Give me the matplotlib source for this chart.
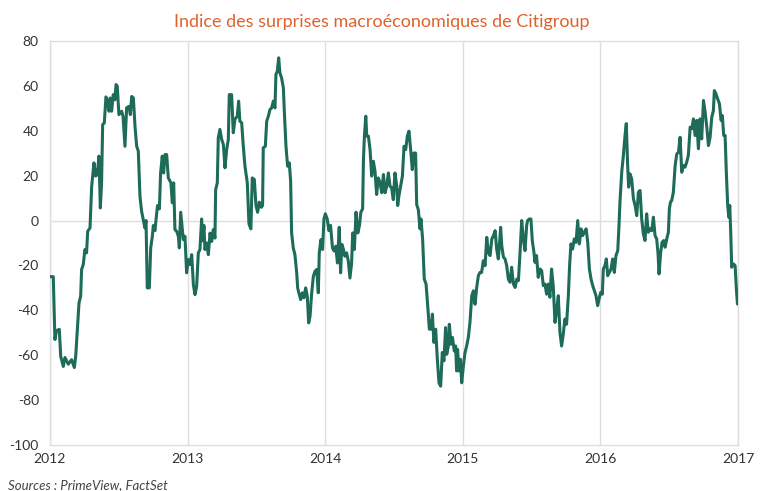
import matplotlib
matplotlib.use("Agg")
import matplotlib.pyplot as plt

plt.rcParams['font.family'] = ['Lato', 'DejaVu Sans']
plt.rcParams['axes.unicode_minus'] = False

# Indice des surprises macro Citigroup, temps en années décimales
years = [
    2012.000, 2012.024, 2012.036, 2012.048, 2012.068, 2012.078, 2012.097, 2012.109, 2012.133, 2012.157,
    2012.177, 2012.187, 2012.199, 2012.211, 2012.223, 2012.230, 2012.242, 2012.254, 2012.266, 2012.274,
    2012.291, 2012.303, 2012.320, 2012.332, 2012.344, 2012.356, 2012.366, 2012.375, 2012.383, 2012.395,
    2012.407, 2012.419, 2012.429, 2012.438, 2012.448, 2012.460, 2012.472, 2012.480, 2012.489, 2012.501,
    2012.521, 2012.531, 2012.545, 2012.557, 2012.574, 2012.584, 2012.594, 2012.606, 2012.618, 2012.630,
    2012.642, 2012.654, 2012.666, 2012.678, 2012.690, 2012.698, 2012.707, 2012.722, 2012.732, 2012.744,
    2012.751, 2012.763, 2012.775, 2012.782, 2012.795, 2012.804, 2012.816, 2012.826, 2012.836, 2012.848,
    2012.860, 2012.879, 2012.889, 2012.899, 2012.908, 2012.921, 2012.933, 2012.940, 2012.950, 2012.957,
    2012.969, 2012.981, 2012.993, 2013.005, 2013.017, 2013.030, 2013.042, 2013.054, 2013.066, 2013.078,
    2013.090, 2013.102, 2013.110, 2013.119, 2013.126, 2013.139, 2013.151, 2013.163, 2013.175, 2013.187,
    2013.199, 2013.204, 2013.216, 2013.223,
    2013.235, 2013.248, 2013.260, 2013.272, 2013.284, 2013.296, 2013.303, 2013.320, 2013.332, 2013.344,
    2013.361, 2013.371, 2013.380, 2013.393, 2013.405, 2013.417, 2013.434, 2013.446, 2013.460, 2013.470,
    2013.485, 2013.497, 2013.509, 2013.521, 2013.536, 2013.545, 2013.550, 2013.565, 2013.575, 2013.587,
    2013.599, 2013.611, 2013.623, 2013.635, 2013.642, 2013.652, 2013.662, 2013.671, 2013.683, 2013.696,
    2013.703, 2013.715, 2013.727, 2013.739, 2013.749, 2013.756, 2013.768, 2013.780, 2013.793, 2013.800,
    2013.812, 2013.822, 2013.834, 2013.846, 2013.858, 2013.870, 2013.880, 2013.890, 2013.902, 2013.914,
    2013.926, 2013.938, 2013.950, 2013.957, 2013.969, 2013.981, 2013.991, 2014.001, 2014.015, 2014.027,
    2014.039, 2014.053, 2014.065, 2014.077, 2014.089, 2014.102, 2014.112, 2014.121, 2014.133, 2014.143,
    2014.156, 2014.168, 2014.180, 2014.192, 2014.200, 2014.212, 2014.224, 2014.237, 2014.249, 2014.259,
    2014.272, 2014.278, 2014.285, 2014.295, 2014.302, 2014.314, 2014.326, 2014.338, 2014.350, 2014.362,
    2014.374, 2014.386, 2014.399, 2014.411, 2014.423, 2014.435, 2014.447, 2014.459, 2014.471, 2014.483,
    2014.495,
    2014.507, 2014.520, 2014.527, 2014.536, 2014.548, 2014.561, 2014.573, 2014.585, 2014.597, 2014.609,
    2014.621, 2014.633, 2014.645, 2014.657, 2014.665, 2014.677, 2014.689, 2014.696, 2014.708, 2014.720,
    2014.733, 2014.745, 2014.757, 2014.769, 2014.779, 2014.790, 2014.803, 2014.815, 2014.827, 2014.839,
    2014.851, 2014.863, 2014.875, 2014.883, 2014.895, 2014.902, 2014.914, 2014.925, 2014.938, 2014.948,
    2014.955, 2014.962, 2014.972, 2014.982, 2014.992, 2015.004, 2015.016, 2015.028, 2015.040, 2015.052,
    2015.065, 2015.077, 2015.089, 2015.101, 2015.113, 2015.125, 2015.137, 2015.149, 2015.162, 2015.174,
    2015.186, 2015.198, 2015.211, 2015.223, 2015.235, 2015.246, 2015.258, 2015.265, 2015.275, 2015.283,
    2015.295, 2015.307, 2015.319, 2015.331, 2015.343, 2015.355, 2015.368, 2015.380, 2015.392, 2015.404,
    2015.416, 2015.428, 2015.440, 2015.452, 2015.464, 2015.471, 2015.483, 2015.495, 2015.505, 2015.517,
    2015.524, 2015.536, 2015.548, 2015.561, 2015.573, 2015.585, 2015.597, 2015.609, 2015.621, 2015.633,
    2015.645, 2015.657, 2015.670, 2015.682, 2015.694, 2015.706, 2015.718, 2015.730, 2015.742, 2015.754,
    2015.767, 2015.776, 2015.786, 2015.798, 2015.810, 2015.823, 2015.835, 2015.847, 2015.859, 2015.871,
    2015.883, 2015.896, 2015.908, 2015.920, 2015.932, 2015.944, 2015.956, 2015.968, 2015.980, 2015.990,
    2016.002, 2016.014, 2016.021, 2016.033, 2016.043, 2016.053, 2016.065, 2016.077, 2016.089, 2016.101,
    2016.113, 2016.126, 2016.135, 2016.142, 2016.155, 2016.167, 2016.179, 2016.188, 2016.198, 2016.205,
    2016.215, 2016.227, 2016.240, 2016.252, 2016.264, 2016.276, 2016.288, 2016.300, 2016.312, 2016.324,
    2016.336, 2016.348, 2016.361, 2016.373, 2016.385, 2016.397, 2016.409, 2016.419, 2016.426, 2016.438,
    2016.448, 2016.460, 2016.470, 2016.482, 2016.494, 2016.501, 2016.509, 2016.518, 2016.530, 2016.543,
    2016.555, 2016.567, 2016.579, 2016.591, 2016.603, 2016.615, 2016.627, 2016.639, 2016.652, 2016.664,
    2016.676, 2016.688, 2016.700, 2016.712, 2016.724, 2016.736, 2016.749, 2016.761, 2016.773, 2016.785,
    2016.797, 2016.809, 2016.821, 2016.828, 2016.840, 2016.852, 2016.865, 2016.877, 2016.886, 2016.896,
    2016.906, 2016.915, 2016.925, 2016.933, 2016.940, 2016.947, 2016.954, 2016.967, 2016.979, 2016.988,
    2016.996, 2017.000,
]
values = [
    -25, -25, -53, -49, -48.5, -60.5, -65, -61, -64, -62,
    -65.5, -60.5, -48.5, -36.7, -33.7, -21.8, -19.6, -12.9, -14.4, -4.8,
    -3.3, 15.3, 25.7, 19.8, 20.5, 28.7, 5.6, 16.8, 42.8, 43.5,
    55.1, 53.2, 48.7, 54.6, 48.7, 56.1, 53.8, 60.6, 59.9, 47.2,
    48.7, 46.4, 33.1, 50.2, 50.9, 47.2, 55.3, 54.6, 42.0, 33.1,
    30.9, 10.8, 4.1, 0.4, -3.3, 0, -30, -30, -12.2, -7,
    -2.2, -4.5, 3, 6.7, 5.2, 21.2, 28.7, 21.2, 29.4, 29.4,
    19.0, 16.8, 7.9, 16.8, -4, -4.8, -7, -12.2, 3.7, -0.7,
    -8.5, -7, -23.3, -17.4, -19.6, -15.2, -28.5, -33, -29.3, -14.4,
    -12.9, 0.7, -9, -2.2, -12.9, -10, -15.2, -5.6, -9.3, -4,
    -7.8, 13.8, 16.8, 36.8,
    40.6, 36.1, 33.9, 23.5, 31.6, 36.1, 56.1, 56.1, 39.1, 45.1,
    46.5, 53.2, 44.3, 43.6, 33.1, 24.2, 16.8, -1.5, -3.7, 19,
    18.3, 6.7, 3.7, 8.2, 5.9, 6.7, 32.4, 33.1, 44.3, 46.5,
    49.5, 50.2, 53.2, 50.2, 65.1, 66.5, 72.5, 65.8, 63.6, 59.1,
    48.7, 33.1, 24.2, 25.7, 17.5, -5.5, -12.2, -15.2, -23.3, -30,
    -33, -35.2, -32.2, -34.4, -30, -33.7, -45.6, -42.6, -32.2, -24.8,
    -22.6, -21.8, -32.2, -14.4, -8.5, -12.9, 0.7, 3, 0.7, -4.5,
    -2.2, -12.2, -13.6, -11.4, -18.9, -3, -23.3, -10.6, -12.9, -15.9,
    -14.4, -18.1, -25.6, -18.9, -5.5, -12.9, 3.7, -5.5, -2.2, 3.7,
    5.2, 27.2, 37.6, 46.5, 37.6, 37.6, 31.6, 19.8, 26.4, 22,
    11.6, 19, 16.8, 12.4, 20.5, 12.4, 15.3, 21.2, 15.3, 14.6,
    9.3,
    21.2, 15.3, 6.7, 11.1, 15.3, 19.8, 33.1, 31.6, 37.6, 39.8,
    31.6, 22.7, 30.1, 30.1, 7.1, 4.8, -3.7, 0.7, -8.3, -26.1,
    -28.3, -38, -48.4, -48.4, -41.7, -54.3, -48.4, -61.8, -72.3, -73.8,
    -58.8, -62.5, -47.7, -59.6, -55.9, -46.2, -55.1, -52.1, -58.1, -55.9,
    -67, -57.4, -67, -61.8, -72.3, -64.8, -58.8, -55.9, -52.1, -45.4,
    -33.5, -31.3, -37.3, -29.8, -24.6, -23.1, -23.1, -17.9, -20.1, -7.5,
    -14.2, -15.6, -8.2, -6.7, -4.5, -12.7, -17.1, -11.9, -3, -11.1,
    -16.3, -17.1, -20.1, -26.1, -27.5, -20.8, -28.3, -29.8, -26.1, -26.8,
    -14.2, 0, -8.2, -13.4, -2.2, 0, 0.7, 0.7, -8.9, -14.2,
    -18.6, -15.6, -25.3, -21.6, -22.3, -29, -28.3, -32.8, -28.3, -34.2,
    -21.6, -29, -45.4, -40.2, -33.5, -49.9, -55.9, -50.6, -43.9, -46.2,
    -33.4, -20.1, -10.4, -12.7, -8.2, -9.7, 0, -10.4, -3.7, -6.7,
    -5.2, -3.7, -9.7, -21.6, -26.1, -29, -31.3, -33.5, -37.9, -35,
    -32, -32.8, -21.6, -20.1, -17.1, -24.6, -23.1, -21.6, -17.1, -23.1,
    -15.6, -13.4, -2.2, 8.2, 21.7, 29.1, 38, 43.2, 24.5, 14.9,
    20.8, 18.6, 9.7, 6.7, 2.2, 12.6, 13.4, 0.7, -5.9, -8.9,
    3, -5.2, -3.7, -4.5, 1.5, -6.7, -8.2, -14.9, -23.8, -14.2,
    -9.7, -8.9, -11.9, -8.2, -5.2, 5.2, 8.2, 8.9, 12.6, 24.5,
    29.7, 30.4, 37.1, 21.5, 24.5, 23.8, 26, 29, 41.6, 40.9,
    45.3, 37.9, 44.6, 32, 45.3, 36.4, 53.5, 48.3, 41.6, 33.4,
    37.1, 46, 49, 57.9, 56.4, 54.2, 52, 44.6, 46.8, 37.9,
    37.9, 21.5, 6.7, 1.5, 6.7, -5.2, -20.8, -19.3, -20.1, -30.5,
    -37.2, -35,
]

year_ticks = [2012, 2013, 2014, 2015, 2016, 2017]
y_ticks = [-100, -80, -60, -40, -20, 0, 20, 40, 60, 80]

line_color = '#1d6b58'
grid_color = '#dedede'
text_color = '#333333'

fig = plt.figure(figsize=(7.64, 4.91), dpi=100)
ax = fig.add_axes([0.0654, 0.0937, 0.9006, 0.8228])

ax.plot(years, values, color=line_color, linewidth=2.2, solid_joinstyle='round', zorder=3)

ax.set_xlim(2012, 2017)
ax.set_ylim(-100, 80)
ax.set_xticks(year_ticks)
ax.set_xticklabels([str(y) for y in year_ticks])
ax.set_yticks(y_ticks)

# grille : verticales aux années, horizontale seulement à 0
for y in year_ticks:
    ax.axvline(y, color=grid_color, linewidth=1.0, zorder=1)
ax.axhline(0, color=grid_color, linewidth=1.0, zorder=1)

for s in ax.spines.values():
    s.set_color(grid_color)
    s.set_linewidth(1.0)

ax.tick_params(axis='both', length=0, labelsize=10, colors=text_color)
ax.tick_params(axis='y', pad=8)
ax.tick_params(axis='x', pad=6)

fig.text(0.5, 0.955, "Indice des surprises macroéconomiques de Citigroup",
         ha='center', va='center', fontsize=13, color='#e0622b')
fig.text(0.01, 0.012, "Sources : PrimeView, FactSet", ha='left', va='center',
         fontsize=9.5, style='italic', color='#444444')

fig.savefig("out.png", dpi=100)
